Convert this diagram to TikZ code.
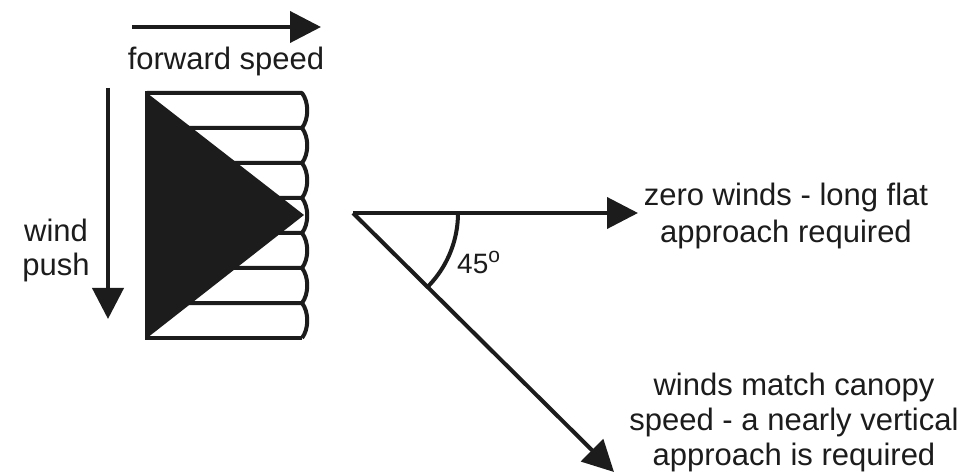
\documentclass[tikz,border=0pt]{standalone}
\usepackage{fontspec}
\setmainfont{Liberation Sans}
\usetikzlibrary{arrows.meta}
\definecolor{ink}{HTML}{1C1C1C}
\begin{document}
\begin{tikzpicture}[x=1pt,y=-1pt,
  line/.style={draw=ink,line width=4pt},
  arr/.style={line,-{Triangle[length=31pt,width=31pt]}},
  lbl/.style={text=ink,inner sep=0pt,align=center,font=\fontsize{31}{36}\selectfont}]
\useasboundingbox[fill=white] (0,0) rectangle (967,473);
% forward speed
\coordinate (fs0) at (132,27);
\coordinate (fs1) at (321,27);
\draw[arr] (fs0) -- (fs1);
\node[lbl] (fsl) at (226,61) {forward speed};
% wind push
\coordinate (wp0) at (108,88);
\coordinate (wp1) at (108,319);
\draw[arr] (wp0) -- (wp1);
\node[lbl,font=\fontsize{31}{34}\selectfont] (wpl) at (56,250) {wind\\push};
% canopy cells
\foreach \i in {0,...,6}{
  \pgfmathsetmacro{\ya}{93+35*\i}
  \pgfmathsetmacro{\yb}{93+35*(\i+1)}
  \draw[line,line join=round] (147,\ya) -- (302,\ya) .. controls (309,\ya+9) and (309,\yb-9) .. (302,\yb);
}
\draw[line] (147,338) -- (302,338);
\draw[line] (147,91) -- (147,340);
% slider triangle
\coordinate (t1) at (147,93);
\coordinate (t2) at (147,338);
\coordinate (t3) at (304,215);
\fill[ink] (t1) -- (t2) -- (t3) -- cycle;
% approach angles
\coordinate (v) at (353,213);
\coordinate (h1) at (638,213);
\coordinate (d1) at (614,472);
\draw[arr] (v) -- (h1);
\draw[arr] (v) -- (d1);
\draw[line] plot[domain=0:45,samples=40] ({353+105*cos(\x)},{213+105*sin(\x)});
\node[lbl,anchor=west,font=\fontsize{28}{30}\selectfont] (ang) at (457,262) {45\raisebox{11pt}{\fontsize{21}{21}\selectfont o}};
% labels
\node[lbl,font=\fontsize{31}{37}\selectfont] (zl) at (786,216) {zero winds - long flat\\approach required};
\node[lbl,font=\fontsize{31}{35}\selectfont] (ml) at (794,422) {winds match canopy\\speed - a nearly vertical\\approach is required};
\end{tikzpicture}
\end{document}
